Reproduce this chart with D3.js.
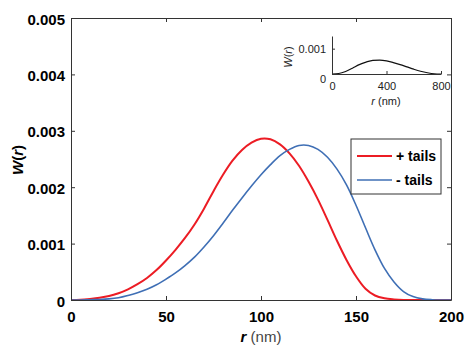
<!DOCTYPE html>
<html><head><meta charset="utf-8">
<script src="https://cdn.jsdelivr.net/npm/d3@7"></script>
<style>body{margin:0;background:#fff}svg{display:block}</style>
</head><body>
<script>
// ---- data ----
const rValues = [0,5,10,15,20,25,30,35,40,45,50,55,60,65,70,75,80,85,90,95,100,105,110,115,120,125,130,135,140,145,150,155,160,165,170,175,180,185,190,195,200];
const plusTails = [0,0.000005,0.00002,0.00004,0.00007,0.00012,0.00019,0.00028,0.00039,0.00053,0.0007,0.00089,0.0011,0.00134,0.00162,0.00193,0.00222,0.00247,0.00266,0.00279,0.00286,0.00285,0.00276,0.0026,0.00238,0.0021,0.00178,0.00142,0.00105,0.00071,0.00042,0.0002,0.00008,0.00003,0.00001,0,0,0,0,0,0];
const minusTails = [0,0,0.000005,0.00001,0.00002,0.00004,0.00008,0.00013,0.00019,0.00027,0.00037,0.00048,0.00061,0.00076,0.00094,0.00114,0.00136,0.00159,0.00181,0.00202,0.00222,0.0024,0.00256,0.00267,0.00274,0.00274,0.00267,0.00253,0.00232,0.00204,0.00168,0.00128,0.00089,0.00056,0.00032,0.00015,0.00006,0.00002,0.000005,0,0];
const insetR = [0,50,100,150,200,250,300,350,400,450,500,550,600,650,700,750,800];
const insetW = [0,0.00002,0.0001,0.00023,0.00037,0.00047,0.00054,0.00055,0.00052,0.00045,0.00037,0.00028,0.00019,0.00011,0.00005,0.00001,0];
const xTicks = [0,50,100,150,200];
const yTicks = [0,0.001,0.002,0.003,0.004,0.005];
const yTickLabels = ["0","0.001","0.002","0.003","0.004","0.005"];
const insetXTicks = [0,400,800];
const insetYTicks = [0,0.001];
const insetYTickLabels = ["0","0.001"];
const seriesNames = ["+ tails","- tails"];
const seriesColors = ["#ec1c24","#3f6fb5"];

const W = 474, H = 354;
const svg = d3.select("body").append("svg").attr("width",W).attr("height",H)
  .style("font-family","'Liberation Sans', Arial, sans-serif");

const m = {l:71, t:18, r:451, b:300};
const x = d3.scaleLinear().domain([0,200]).range([m.l,m.r]);
const y = d3.scaleLinear().domain([0,0.005]).range([m.b,m.t]);
const axisColor = "#333";

// curves
const line = d3.line().x(d=>x(d[0])).y(d=>Math.min(y(0), y(d[1]))).curve(d3.curveCatmullRom.alpha(0.5));
const series = [plusTails, minusTails];
series.forEach((s,i)=>{
  svg.append("path").datum(rValues.map((r,j)=>[r,s[j]]))
    .attr("d",line).attr("fill","none").attr("stroke",seriesColors[i])
    .attr("stroke-width", i===0?2:1.6).attr("stroke-linejoin","round");
});

// axes (box with inward ticks)
const tl = 4;
const gB = svg.append("g").attr("transform",`translate(0,${m.b})`)
  .call(d3.axisBottom(x).tickValues(xTicks).tickSizeInner(-tl).tickSizeOuter(0).tickPadding(8));
const gT = svg.append("g").attr("transform",`translate(0,${m.t})`)
  .call(d3.axisTop(x).tickValues(xTicks).tickSizeInner(-tl).tickSizeOuter(0).tickFormat(""));
const gL = svg.append("g").attr("transform",`translate(${m.l},0)`)
  .call(d3.axisLeft(y).tickValues(yTicks).tickSizeInner(-tl).tickSizeOuter(0).tickPadding(6)
    .tickFormat((d,i)=>yTickLabels[i]));
const gR = svg.append("g").attr("transform",`translate(${m.r},0)`)
  .call(d3.axisRight(y).tickValues(yTicks).tickSizeInner(-tl).tickSizeOuter(0).tickFormat(""));
[gB,gT,gL,gR].forEach(g=>{
  g.selectAll("path,line").attr("stroke",axisColor);
  g.selectAll("text").attr("fill","#000").style("font-size","15px").style("font-weight","bold").style("font-family","'Liberation Sans', Arial, sans-serif");
});
gB.selectAll("text").attr("dy","0.95em");
gL.selectAll("text").attr("dy","0.4em");

// axis labels
const xl = svg.append("text").attr("x",(m.l+m.r)/2).attr("y",342).attr("text-anchor","middle").style("font-size","15px");
xl.append("tspan").text("r").style("font-weight","bold").style("font-style","italic");
xl.append("tspan").text(" (nm)").attr("fill","#444");
const yl = svg.append("text").attr("transform",`translate(23,160) rotate(-90)`).attr("text-anchor","middle")
  .style("font-size","15px").style("font-weight","bold").style("font-style","italic");
yl.append("tspan").text("W");
yl.append("tspan").text("(").style("font-style","normal");
yl.append("tspan").text("r");
yl.append("tspan").text(")").style("font-style","normal");

// legend
const lg = svg.append("g");
lg.append("rect").attr("x",351).attr("y",139).attr("width",90).attr("height",55)
  .attr("fill","#fff").attr("stroke",axisColor).attr("stroke-width",1);
seriesNames.forEach((n,i)=>{
  const yy = 156 + i*24;
  lg.append("line").attr("x1",357).attr("x2",392).attr("y1",yy).attr("y2",yy)
    .attr("stroke",seriesColors[i]).attr("stroke-width",i===0?2:1.6);
  lg.append("text").attr("x",396).attr("y",yy+5).text(n)
    .style("font-size","14px").style("font-weight","bold");
});

// inset
const ix = d3.scaleLinear().domain([0,800]).range([332,441]);
const iy = d3.scaleLinear().domain([0,0.0015]).range([74,36]);
svg.append("path").datum(insetR.map((r,j)=>[r,insetW[j]]))
  .attr("d", d3.line().x(d=>ix(d[0])).y(d=>iy(d[1])).curve(d3.curveMonotoneX))
  .attr("fill","none").attr("stroke","#111").attr("stroke-width",1.2);
const iB = svg.append("g").attr("transform","translate(0,74)")
  .call(d3.axisBottom(ix).tickValues(insetXTicks).tickSizeInner(-3).tickSizeOuter(0).tickPadding(6));
const iL = svg.append("g").attr("transform","translate(332,0)")
  .call(d3.axisLeft(iy).tickValues(insetYTicks).tickSizeInner(-3).tickSizeOuter(0).tickPadding(6)
    .tickFormat((d,i)=>insetYTickLabels[i]));
[iB,iL].forEach(g=>{
  g.selectAll("path,line").attr("stroke",axisColor);
  g.selectAll("text").attr("fill","#222").style("font-size","11px").style("font-family","'Liberation Sans', Arial, sans-serif");
});
iB.selectAll("text").attr("dy","0.9em");
iL.select(".tick:first-of-type text").attr("dy","0.75em");
const ixl = svg.append("text").attr("x",386).attr("y",105).attr("text-anchor","middle").style("font-size","11px").attr("fill","#222");
ixl.append("tspan").text("r").style("font-style","italic");
ixl.append("tspan").text(" (nm)");
const iyl = svg.append("text").attr("transform","translate(292,57) rotate(-90)").attr("text-anchor","middle")
  .style("font-size","11px").attr("fill","#222");
iyl.append("tspan").text("W").style("font-style","italic");
iyl.append("tspan").text("(");
iyl.append("tspan").text("r").style("font-style","italic");
iyl.append("tspan").text(")");
</script>
</body></html>
